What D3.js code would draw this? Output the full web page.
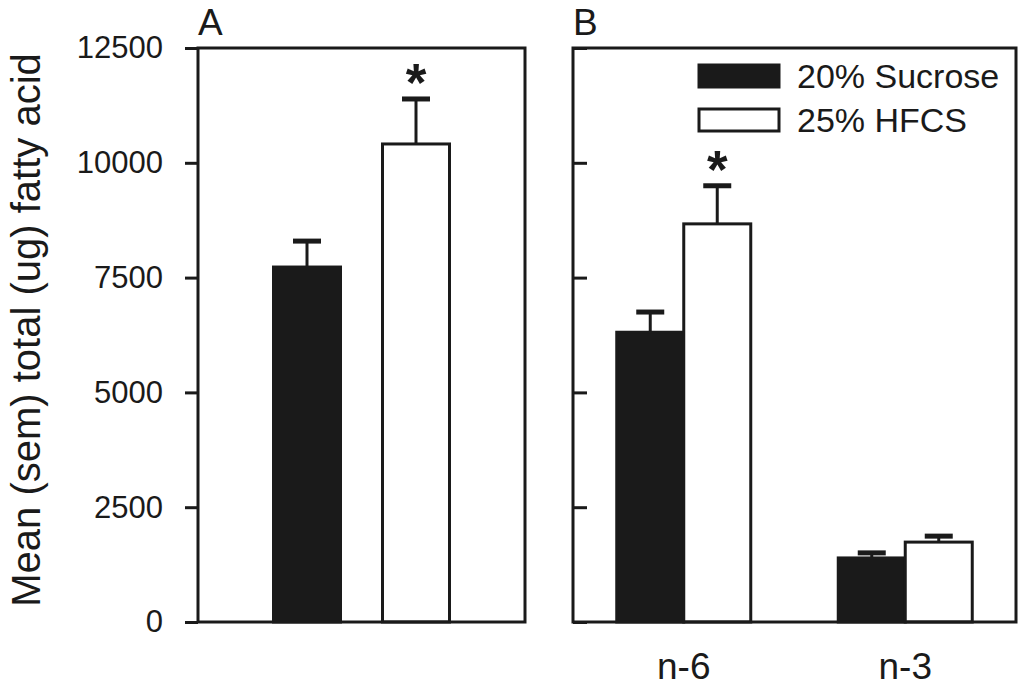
<!DOCTYPE html>
<html>
<head>
<meta charset="utf-8">
<script src="https://cdn.jsdelivr.net/npm/d3@7/dist/d3.min.js"></script>
<style>
  body { margin: 0; background: #fff; }
  svg { display: block; font-family: "Liberation Sans", Arial, sans-serif; }
</style>
</head>
<body>
<div id="chart"></div>
<script>
// data
const diets = ['20% Sucrose', '25% HFCS'];
const fattyGroups = ['n-6', 'n-3'];
const totalMean = [7730, 10410];
const totalSem = [565, 980];
const n6Mean = [6310, 8670];
const n6Sem = [440, 830];
const n3Mean = [1395, 1740];
const n3Sem = [110, 130];
const yTicks = [0, 2500, 5000, 7500, 10000, 12500];
const significant = [[false, true], [false, true], [false, false]];

const width = 1024
const height = 686
const ink = '#1a1a1a'
const fills = ['#1a1a1a', '#ffffff']

const svg = d3.select('#chart')
    .append('svg')
    .attr('width', width)
    .attr('height', height);

const yScale = d3.scaleLinear()
    .domain([0, 12500])
    .range([622, 48]);

// panel positions
const panelA = { left: 198, right: 525 }
const panelB = { left: 573, right: 1016 }
const barWidth = 67

const xA = d3.scalePoint()
    .domain(diets)
    .range([panelA.left, panelA.right])
    .padding(1);

const xB = d3.scaleBand()
    .domain(fattyGroups)
    .range([panelB.left, panelB.right])
    .padding(0);

// build bar records
const barsA = diets.map((s, i) => ({
    x: xA(s) - barWidth / 2, mean: totalMean[i], sem: totalSem[i], fill: fills[i], star: significant[0][i]
}));
const barsB = [];
fattyGroups.forEach((g, gi) => {
    const means = gi === 0 ? n6Mean : n3Mean;
    const sems = gi === 0 ? n6Sem : n3Sem;
    const c = xB(g) + xB.bandwidth() / 2;
    diets.forEach((s, i) => {
        barsB.push({
            x: c - barWidth + i * barWidth, mean: means[i], sem: sems[i], fill: fills[i], star: significant[gi + 1][i]
        });
    });
});

function drawBars(bars) {
    const g = svg.append('g');
    // error bars (upper only)
    bars.forEach(d => {
        const cx = d.x + barWidth / 2;
        g.append('line')
            .attr('x1', cx).attr('x2', cx)
            .attr('y1', yScale(d.mean)).attr('y2', yScale(d.mean + d.sem))
            .attr('stroke', ink).attr('stroke-width', 3);
        g.append('line')
            .attr('x1', cx - 14).attr('x2', cx + 14)
            .attr('y1', yScale(d.mean + d.sem)).attr('y2', yScale(d.mean + d.sem))
            .attr('stroke', ink).attr('stroke-width', 5);
        if (d.star) {
            g.append('text')
                .attr('x', cx)
                .attr('y', yScale(d.mean + d.sem) + 2)
                .attr('text-anchor', 'middle')
                .style('font-size', '53px')
                .style('font-weight', 'bold')
                .attr('fill', ink)
                .text('*');
        }
    });
    g.selectAll('rect')
        .data(bars)
        .enter()
        .append('rect')
        .attr('x', d => d.x)
        .attr('y', d => yScale(d.mean))
        .attr('width', barWidth)
        .attr('height', d => yScale(0) - yScale(d.mean))
        .attr('fill', d => d.fill)
        .attr('stroke', ink)
        .attr('stroke-width', 3);
}

drawBars(barsA);
drawBars(barsB);

// Panel A axis with labels, ticks outward
const axisA = svg.append('g')
    .attr('transform', `translate(${panelA.left},0)`)
    .call(d3.axisLeft(yScale).tickValues(yTicks).tickFormat(d3.format('d'))
        .tickSize(13).tickSizeOuter(0).tickPadding(22));
axisA.select('.domain').remove();
axisA.selectAll('line').attr('stroke', ink).attr('stroke-width', 3);
axisA.selectAll('text')
    .style('font-size', '31px')
    .style('font-family', '"Liberation Sans", Arial, sans-serif')
    .attr('fill', ink);

// Panel B axis, ticks inward, no labels
const axisB = svg.append('g')
    .attr('transform', `translate(${panelB.left},0)`)
    .call(d3.axisRight(yScale).tickValues(yTicks).tickSize(14).tickFormat(''));
axisB.select('.domain').remove();
axisB.selectAll('line').attr('stroke', ink).attr('stroke-width', 3);

// frames
[panelA, panelB].forEach(p => {
    svg.append('rect')
        .attr('x', p.left)
        .attr('y', yScale(12500))
        .attr('width', p.right - p.left)
        .attr('height', yScale(0) - yScale(12500))
        .attr('fill', 'none')
        .attr('stroke', ink)
        .attr('stroke-width', 3);
});

// panel letters
svg.append('text').attr('x', panelA.left).attr('y', 35)
    .style('font-size', '37px').attr('fill', ink).text('A');
svg.append('text').attr('x', panelB.left).attr('y', 35)
    .style('font-size', '37px').attr('fill', ink).text('B');

// x labels for panel B
svg.append('g').selectAll('text')
    .data(fattyGroups)
    .enter()
    .append('text')
    .attr('x', d => xB(d) + xB.bandwidth() / 2)
    .attr('y', 679)
    .attr('text-anchor', 'middle')
    .style('font-size', '37px')
    .attr('fill', ink)
    .text(d => d);

// y axis title
svg.append('text')
    .attr('transform', 'rotate(-90)')
    .attr('x', -330)
    .attr('y', 40)
    .attr('text-anchor', 'middle')
    .style('font-size', '40px')
    .attr('fill', ink)
    .text('Mean (sem) total (ug) fatty acid');

// legend
const legend = svg.append('g');
diets.forEach((s, i) => {
    legend.append('rect')
        .attr('x', 699)
        .attr('y', 65 + i * 44)
        .attr('width', 80)
        .attr('height', 22)
        .attr('fill', fills[i])
        .attr('stroke', ink)
        .attr('stroke-width', 3);
    legend.append('text')
        .attr('x', 797)
        .attr('y', 88 + i * 44)
        .style('font-size', '34px')
        .attr('fill', ink)
        .text(s);
});
</script>
</body>
</html>
